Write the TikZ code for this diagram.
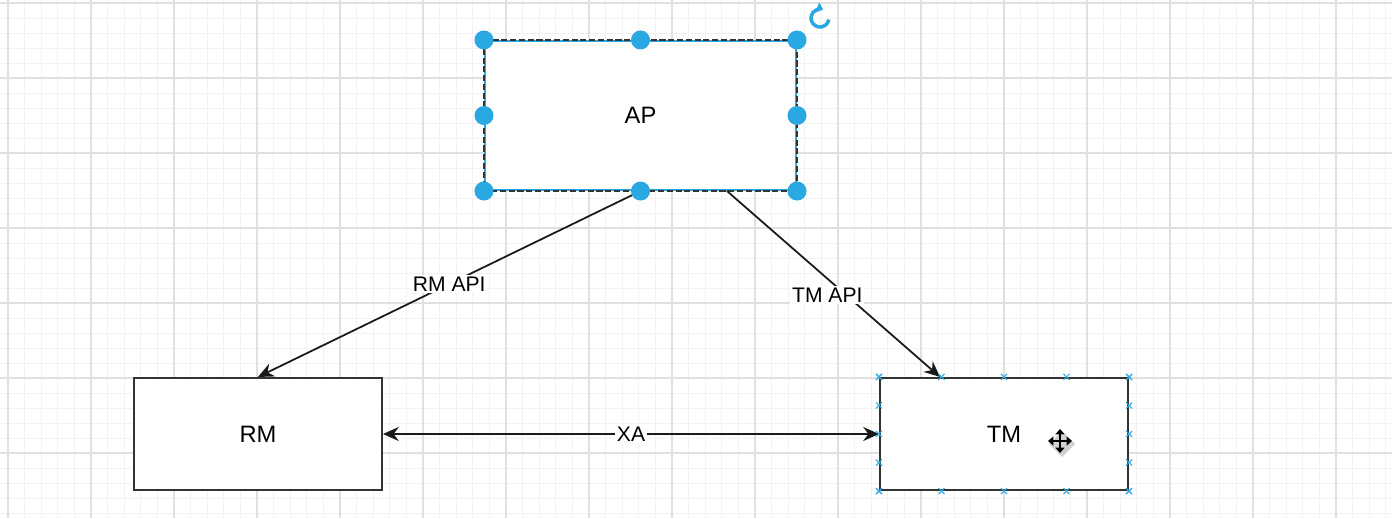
\documentclass[tikz,border=0pt]{standalone}
\usepackage{fontspec}
\setmainfont{Liberation Sans}
\usetikzlibrary{arrows.meta,calc}
\definecolor{selblue}{RGB}{41,168,226}
\definecolor{gridminor}{RGB}{242,242,242}
\definecolor{gridmajor}{RGB}{224,224,224}
\definecolor{edgegray}{RGB}{51,51,51}

\begin{document}
\begin{tikzpicture}[x=0.02cm,y=-0.02cm,
  box/.style={draw=edgegray,line width=1.2pt,fill=white,minimum width=4.96cm,minimum height=2.24cm,font=\fontsize{13.5}{15}\selectfont},
  conn/.style={draw=black!90,line width=1pt,-{Stealth[length=9pt,width=8pt,inset=3pt]}},
  lbl/.style={fill=white,inner sep=1pt,font=\fontsize{12}{14}\selectfont},
  handle/.style={fill=selblue},
  xmark/.style={draw=selblue,line width=0.6pt}]
  \useasboundingbox (0,0) rectangle (1392,518);
  \fill[white] (0,0) rectangle (1392,518);
  % grid
  \foreach \m in {0,...,83} \draw[gridminor,line width=0.5pt] ({8+16.6*\m},0) -- ({8+16.6*\m},518);
  \foreach \n in {0,...,34} \draw[gridminor,line width=0.5pt] (0,{3+15*\n}) -- (1392,{3+15*\n});
  \foreach \m in {0,...,16} \draw[gridmajor,line width=0.7pt] ({8+83*\m},0) -- ({8+83*\m},518);
  \foreach \n in {0,...,6} \draw[gridmajor,line width=0.7pt] (0,{3+75*\n}) -- (1392,{3+75*\n});

  % boxes
  \node[box,minimum width=6.22cm,minimum height=2.98cm,draw=selblue] (ap) at (640.5,115.5) {AP};
  \draw[edgegray,line width=1pt,dash pattern=on 3.5pt off 1.5pt] (ap.north west) rectangle (ap.south east);
  \node[box] (rm) at (258,434) {RM};
  \node[box] (tm) at (1004,434) {TM};

  % connectors
  \coordinate (apr) at ([xshift=1.73cm]ap.south);
  \coordinate (tmin) at ([xshift=-1.28cm]tm.north);
  \draw[conn] (ap.south) -- node[lbl] {RM API} (rm.north);
  \draw[conn] (apr) -- node[lbl,pos=0.56,xshift=-0.38cm] {TM API} (tmin);
  \draw[conn,{Stealth[length=9pt,width=8pt,inset=3pt]}-{Stealth[length=9pt,width=8pt,inset=3pt]}] (rm.east) -- node[lbl] {XA} (tm.west);

  % selection handles
  \foreach \a in {north west,north,north east,east,south east,south,south west,west}
    \fill[handle] (ap.\a) circle (9.5);
  \draw[selblue,line width=2pt,-{Triangle[length=3.5pt,width=6pt]}] (820,18) ++(10:9) arc[start angle=10,end angle=290,radius=9];

  % tm markers
  \foreach \f in {0,0.25,0.5,0.75,1} {
    \draw[xmark] ($(tm.north west)!\f!(tm.north east)$) ++(-3,-3) -- ++(6,6) ++(0,-6) -- ++(-6,6);
    \draw[xmark] ($(tm.south west)!\f!(tm.south east)$) ++(-3,-3) -- ++(6,6) ++(0,-6) -- ++(-6,6);
    \draw[xmark] ($(tm.north west)!\f!(tm.south west)$) ++(-3,-3) -- ++(6,6) ++(0,-6) -- ++(-6,6);
    \draw[xmark] ($(tm.north east)!\f!(tm.south east)$) ++(-3,-3) -- ++(6,6) ++(0,-6) -- ++(-6,6);
  }

  % move cursor
  \fill[black!18] (1062,431) -- (1075,444) -- (1062,457) -- (1049,444) -- cycle;
  \draw[line width=1.3pt,{Triangle[length=3pt,width=5pt]}-{Triangle[length=3pt,width=5pt]}] (1048,441) -- (1072,441);
  \draw[line width=1.3pt,{Triangle[length=3pt,width=5pt]}-{Triangle[length=3pt,width=5pt]}] (1060,429) -- (1060,453);
\end{tikzpicture}
\end{document}
